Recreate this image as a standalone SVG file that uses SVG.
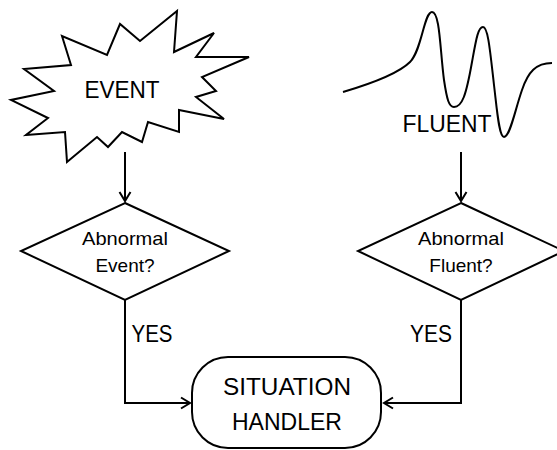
<svg xmlns="http://www.w3.org/2000/svg" width="557" height="450" viewBox="0 0 557 450">
<style>
.s{fill:#fff;stroke:#000;stroke-width:2;stroke-linejoin:miter}
.c{fill:none;stroke:#000;stroke-width:2}
.t{font-family:"Liberation Sans",Arial,sans-serif;fill:#000;text-anchor:middle}
.big{font-size:24px}
.sm{font-size:19px}
</style>
<defs>
<marker id="ah" markerUnits="userSpaceOnUse" markerWidth="14" markerHeight="14" viewBox="-12 -7 14 14" refX="0" refY="0" orient="auto">
<path d="M-9,-5.5 L0,0 L-9,5.5" fill="none" stroke="#000" stroke-width="2"/>
</marker>
</defs>
<rect width="557" height="450" fill="#fff"/>
<g id="event">
<polygon class="s" points="249,57 202,77 216,91 196,97 224,119 179,110 179,132 148,122 142,142 122,132 108,147 97,137 67,162 65,132 26,135 48,118 11,100 54,91 24,69 71,65 62,36 107,55 120,24 140,41 177,11 174,52 214,33 196,57"/>
<text class="t big" x="122" y="98" textLength="75" lengthAdjust="spacingAndGlyphs">EVENT</text>
</g>
<g id="fluent">
<path class="c" d="M343,92 C370,84 398,74 410,62 C422,50 424,12 432,12 C440,12 440,50 444,80 C447,100 449,107 454,107 C462,107 466,96 472,62 C476,40 478,27 483,27 C488,27 490,50 494,85 C497,110 499,137 504,137 C510,137 515,110 522,90 C528,72 536,63 552,63"/>
<text class="t big" x="447" y="132" textLength="89" lengthAdjust="spacingAndGlyphs">FLUENT</text>
</g>
<g id="abnormal-event">
<polygon class="s" points="125,203 229,251 125,300 21,251"/>
<text class="t sm" x="125" y="245" textLength="86" lengthAdjust="spacingAndGlyphs">Abnormal</text>
<text class="t sm" x="125" y="272">Event?</text>
</g>
<g id="abnormal-fluent">
<polygon class="s" points="461,203 564,251 461,300 358,251"/>
<text class="t sm" x="461" y="245" textLength="86" lengthAdjust="spacingAndGlyphs">Abnormal</text>
<text class="t sm" x="461" y="272">Fluent?</text>
</g>
<g id="situation-handler">
<rect class="s" x="192" y="357" width="189" height="91" rx="36" ry="36"/>
<text class="t big" x="287" y="395" textLength="128" lengthAdjust="spacingAndGlyphs">SITUATION</text>
<text class="t big" x="287" y="430" textLength="110" lengthAdjust="spacingAndGlyphs">HANDLER</text>
</g>
<g id="connectors">
<path class="c" d="M125,152 V201" marker-end="url(#ah)"/>
<path class="c" d="M461,152 V201" marker-end="url(#ah)"/>
<path class="c" d="M125,300 V403 H190" marker-end="url(#ah)"/>
<path class="c" d="M461,300 V403 H384" marker-end="url(#ah)"/>
<text class="t big" x="152" y="342" textLength="41" lengthAdjust="spacingAndGlyphs">YES</text>
<text class="t big" x="431" y="342" textLength="42" lengthAdjust="spacingAndGlyphs">YES</text>
</g>
</svg>
